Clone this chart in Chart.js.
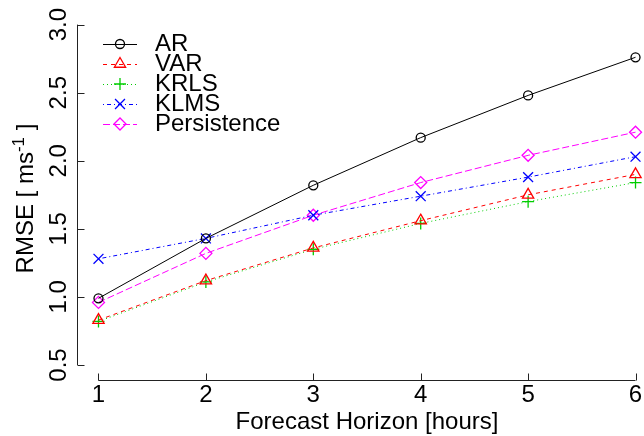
<!DOCTYPE html>
<html>
<head>
<meta charset="utf-8">
<script src="https://cdn.jsdelivr.net/npm/chart.js@4/dist/chart.umd.min.js"></script>
<style>
  html, body { margin: 0; padding: 0; background: #fff; overflow: hidden; }
  #wrap { width: 657px; height: 436px; }
</style>
</head>
<body>
<div id="wrap"><canvas id="rmse-chart" width="657" height="436"></canvas></div>
<script>
// ── Data ───────────────────────────────────────────────────────────────────
const hours       = [1, 2, 3, 4, 5, 6];
const arVals      = [0.99, 1.43, 1.82, 2.17, 2.48, 2.76];
const varVals     = [0.83, 1.12, 1.36, 1.56, 1.75, 1.90];
const krlsVals    = [0.82, 1.11, 1.35, 1.54, 1.70, 1.84];
const klmsVals    = [1.28, 1.43, 1.60, 1.74, 1.88, 2.03];
const persistVals = [0.96, 1.32, 1.60, 1.84, 2.04, 2.21];

const xTicks = [1, 2, 3, 4, 5, 6];
const yTicks = [0.5, 1.0, 1.5, 2.0, 2.5, 3.0];

const FONT = "'Liberation Sans', Arial, Helvetica, sans-serif";

// ── Series ─────────────────────────────────────────────────────────────────
function series(label, vals, color, dash, style, radius) {
  return {
    label,
    data: hours.map((h, i) => ({ x: h, y: vals[i] })),
    borderColor: color,
    backgroundColor: "transparent",
    borderWidth: 1,
    borderDash: dash,
    pointStyle: style,
    pointRadius: radius,
    pointBorderColor: color,
    pointBackgroundColor: "transparent",
    pointBorderWidth: 1.3,
    tension: 0,
  };
}

const datasets = [
  series("AR",          arVals,      "#000000", [],           "circle",   4.5),
  series("VAR",         varVals,     "#ff0000", [4, 4],       "triangle", 6.5),
  series("KRLS",        krlsVals,    "#00cd00", [1, 3],       "cross",    6),
  series("KLMS",        klmsVals,    "#0000ff", [1, 3, 4, 3], "crossRot", 7),
  series("Persistence", persistVals, "#ff00ff", [7, 3],       "rectRot",  6),
];

// ── R-style axes, tick labels, legend and y title ──────────────────────────
const rStyle = {
  id: "rStyle",
  afterDraw(chart) {
    const { ctx, chartArea: a, scales: { x, y } } = chart;
    ctx.save();
    ctx.strokeStyle = "#222";
    ctx.lineWidth = 1;
    ctx.setLineDash([]);

    // y axis line + inward ticks
    const yl = Math.round(a.left) + 0.5;
    ctx.beginPath();
    ctx.moveTo(yl, y.getPixelForValue(yTicks[0]));
    ctx.lineTo(yl, y.getPixelForValue(yTicks[yTicks.length - 1]));
    yTicks.forEach(v => {
      const py = Math.round(y.getPixelForValue(v)) + 0.5;
      ctx.moveTo(yl, py);
      ctx.lineTo(yl + 7, py);
    });
    // x axis line + inward ticks
    const xb = Math.round(a.bottom) + 0.5;
    ctx.moveTo(x.getPixelForValue(xTicks[0]), xb);
    ctx.lineTo(x.getPixelForValue(xTicks[xTicks.length - 1]), xb);
    xTicks.forEach(v => {
      const px = Math.round(x.getPixelForValue(v)) + 0.5;
      ctx.moveTo(px, xb);
      ctx.lineTo(px, xb - 7);
    });
    ctx.stroke();

    // tick labels
    ctx.fillStyle = "#000";
    ctx.font = `24px ${FONT}`;
    ctx.textAlign = "center";
    ctx.textBaseline = "alphabetic";
    xTicks.forEach(v => ctx.fillText(String(v), x.getPixelForValue(v), xb + 21.5));
    ctx.textBaseline = "middle";
    yTicks.forEach(v => {
      ctx.save();
      ctx.translate(59, y.getPixelForValue(v));
      ctx.rotate(-Math.PI / 2);
      ctx.fillText(v.toFixed(1), 0, 0);
      ctx.restore();
    });

    // legend
    ctx.textAlign = "left";
    chart.data.datasets.forEach((ds, i) => {
      const ly = 44 + 20 * i;
      ctx.strokeStyle = ds.borderColor;
      ctx.lineWidth = 1;
      ctx.setLineDash(ds.borderDash);
      ctx.beginPath();
      ctx.moveTo(103, ly + 0.5);
      ctx.lineTo(137, ly + 0.5);
      ctx.stroke();
      ctx.setLineDash([]);
      ctx.lineWidth = ds.pointBorderWidth;
      ctx.fillStyle = "transparent";
      Chart.helpers.drawPoint(ctx, { pointStyle: ds.pointStyle, radius: ds.pointRadius, rotation: 0, borderWidth: ds.pointBorderWidth }, 120, ly);
      ctx.fillStyle = "#000";
      ctx.fillText(ds.label, 155, ly);
    });

    // y title with superscript
    const base = `24px ${FONT}`, sup = `17px ${FONT}`;
    const p1 = "RMSE [ ms", p2 = "-1", p3 = " ]";
    ctx.font = base; const w1 = ctx.measureText(p1).width, w3 = ctx.measureText(p3).width;
    ctx.font = sup;  const w2 = ctx.measureText(p2).width;
    const total = w1 + w2 + w3;
    ctx.translate(33, (a.top + a.bottom) / 2 + 3);
    ctx.rotate(-Math.PI / 2);
    ctx.textBaseline = "alphabetic";
    ctx.fillStyle = "#000";
    let tx = -total / 2;
    ctx.font = base; ctx.fillText(p1, tx, 0); tx += w1;
    ctx.font = sup;  ctx.fillText(p2, tx, -9); tx += w2;
    ctx.font = base; ctx.fillText(p3, tx, 0);
    ctx.restore();
  },
};

// ── Chart ──────────────────────────────────────────────────────────────────
new Chart(document.getElementById("rmse-chart"), {
  type: "line",
  data: { datasets },
  plugins: [rStyle],
  options: {
    responsive: false,
    animation: false,
    devicePixelRatio: 1,
    layout: { autoPadding: false, padding: { top: 11, left: 0, right: 0, bottom: 0 } },
    plugins: { legend: { display: false }, tooltip: { enabled: false } },
    scales: {
      x: {
        type: "linear",
        min: 0.8,
        max: 6.2,
        afterBuildTicks: s => { s.ticks = xTicks.map(v => ({ value: v })); },
        afterFit: s => { s.height = 56; },
        grid: { display: false },
        border: { display: false },
        ticks: { display: false },
        title: {
          display: true,
          text: "Forecast Horizon [hours]",
          color: "#000",
          font: { family: FONT, size: 24, lineHeight: 1.1 },
          padding: { top: 0, bottom: 0 },
        },
      },
      y: {
        min: 0.39,
        max: 3.1,
        afterBuildTicks: s => { s.ticks = yTicks.map(v => ({ value: v })); },
        afterFit: s => { s.width = 77; },
        grid: { display: false },
        border: { display: false },
        ticks: { display: false },
      },
    },
  },
});
</script>
</body>
</html>
